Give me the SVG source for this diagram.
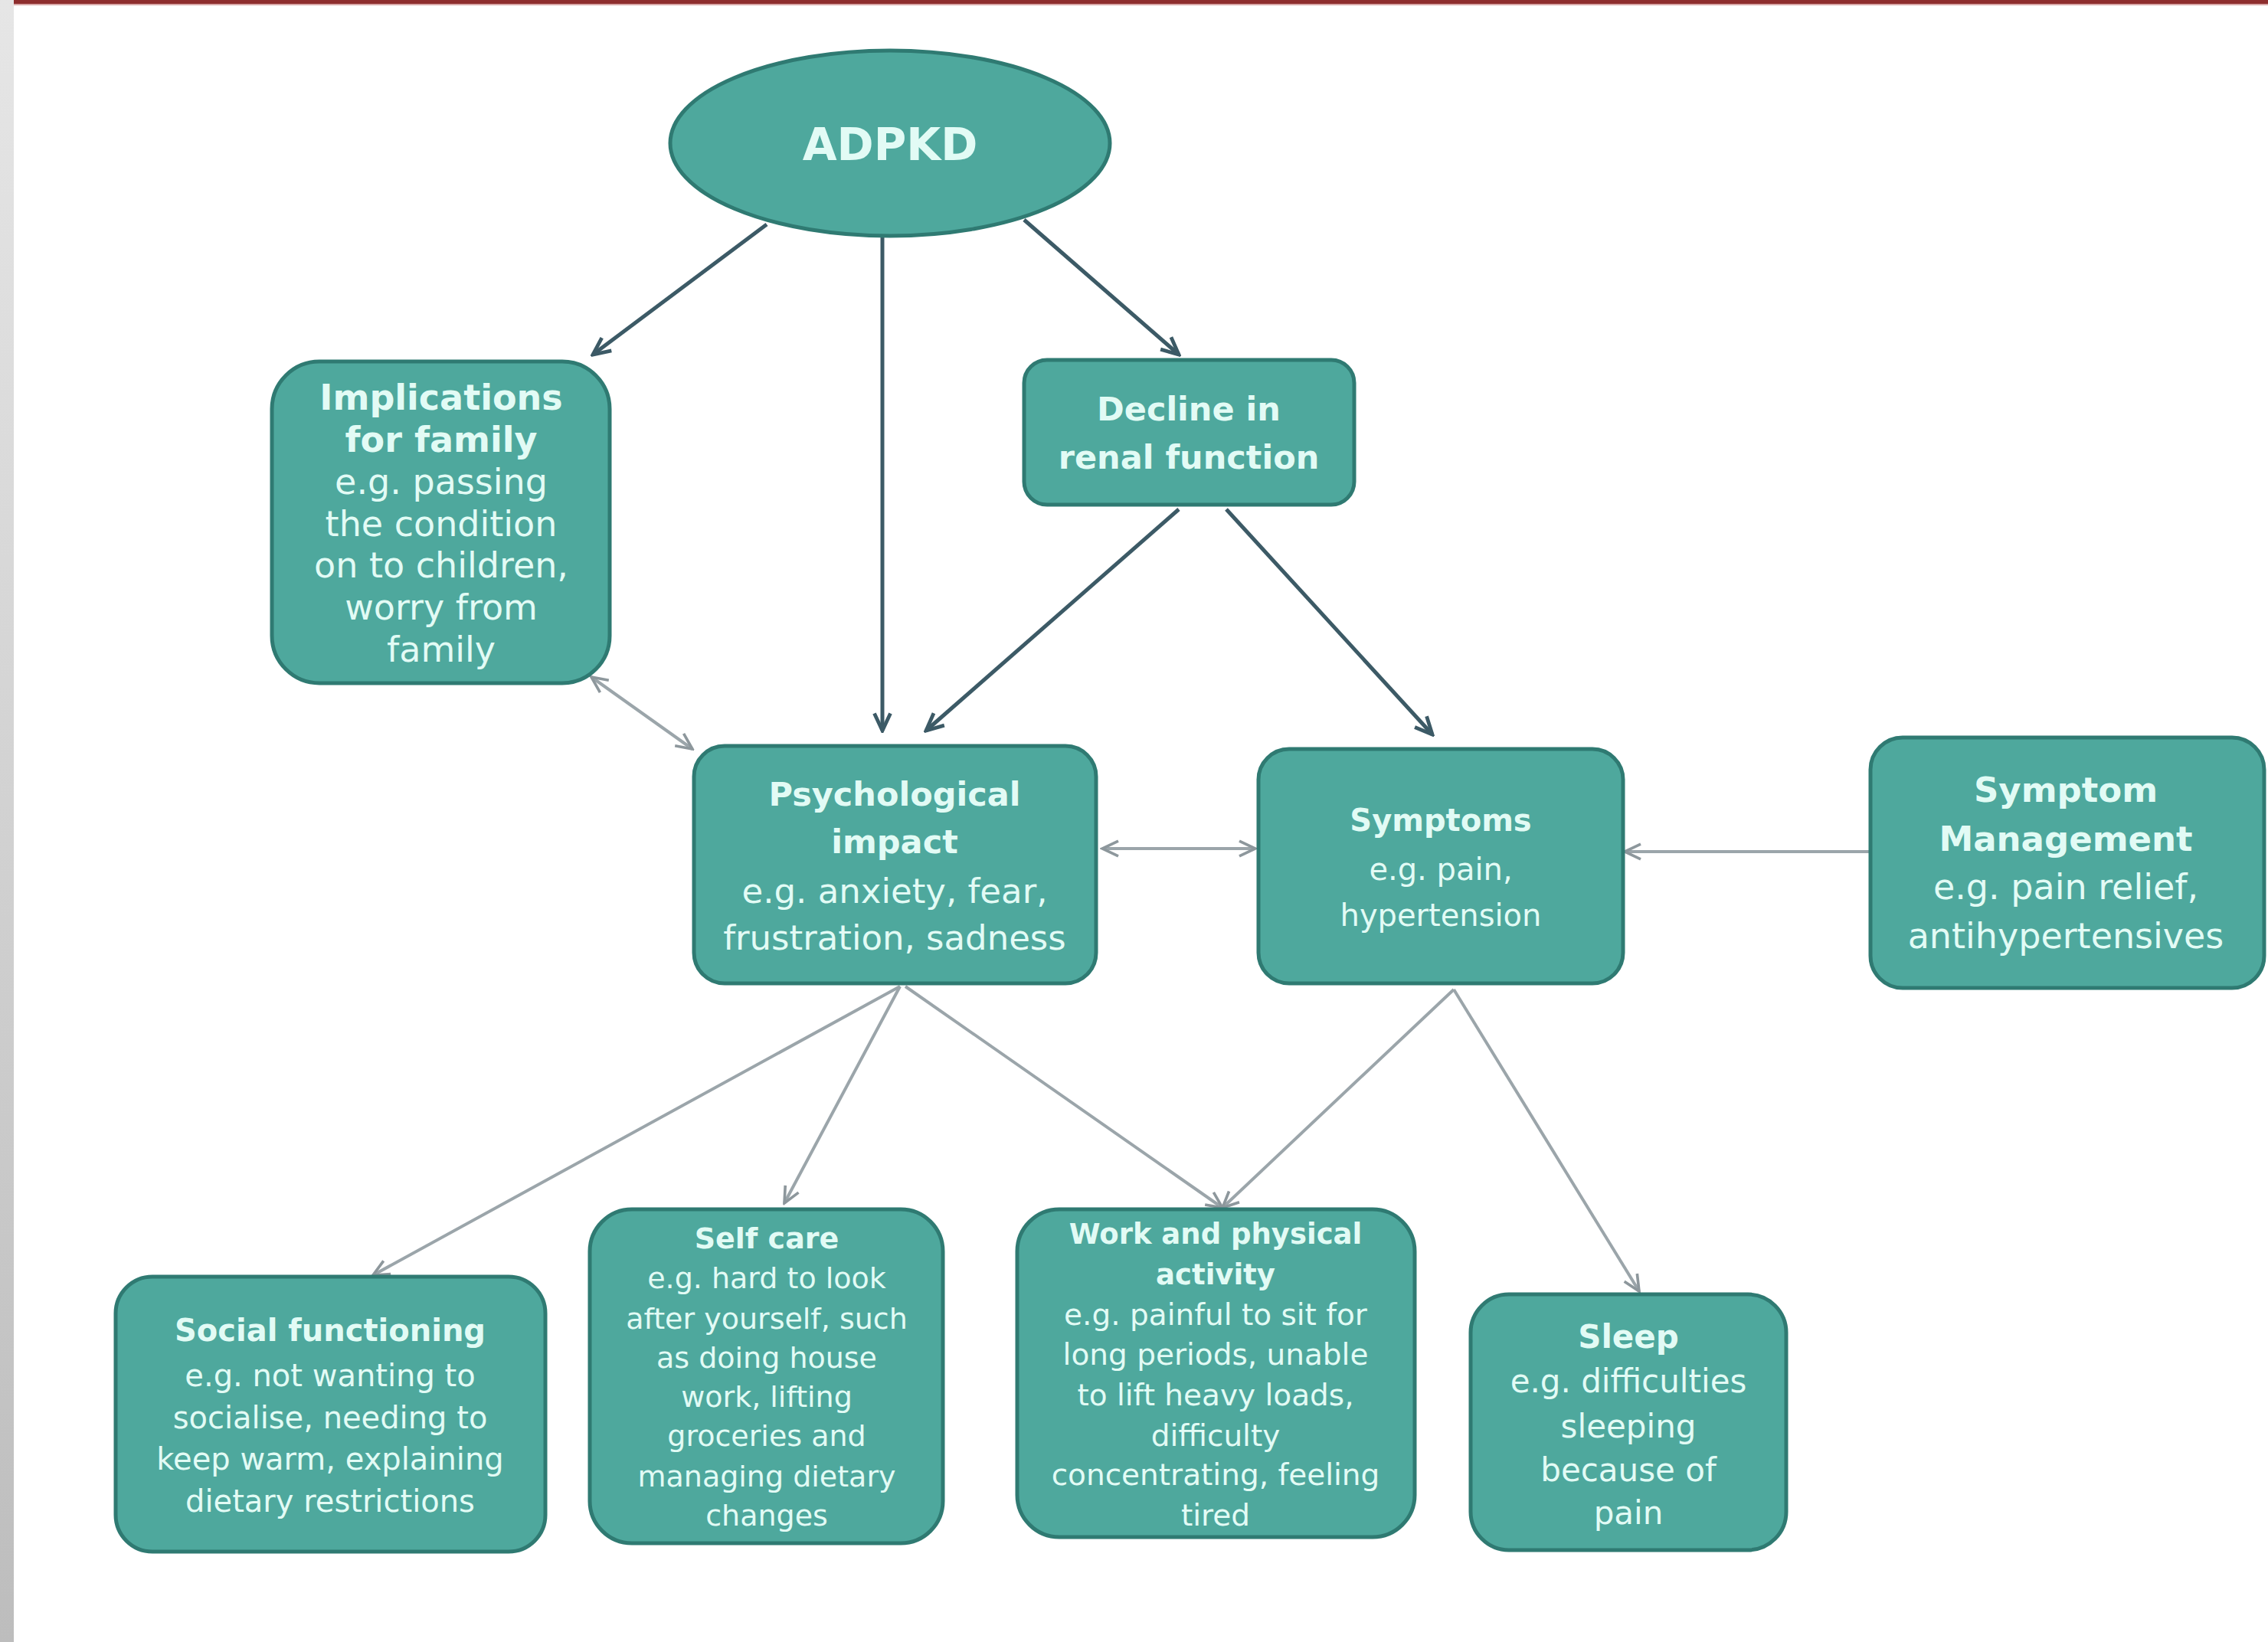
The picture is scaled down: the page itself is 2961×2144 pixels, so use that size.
<svg xmlns="http://www.w3.org/2000/svg" width="2961" height="2144" viewBox="0 0 2961 2144">
<defs>
<linearGradient id="side" x1="0" y1="0" x2="0" y2="1"><stop offset="0" stop-color="#e6e6e6"/><stop offset="1" stop-color="#bdbdbd"/></linearGradient>
<marker id="ad" viewBox="0 0 20 20" refX="18" refY="10" markerWidth="30" markerHeight="30" markerUnits="userSpaceOnUse" orient="auto-start-reverse"><path d="M3,3 L18,10 L3,17" fill="none" stroke="#3c5a66" stroke-width="3.2"/></marker>
<marker id="ag" viewBox="0 0 20 20" refX="18" refY="10" markerWidth="28" markerHeight="28" markerUnits="userSpaceOnUse" orient="auto-start-reverse"><path d="M3,3 L18,10 L3,17" fill="none" stroke="#8d979c" stroke-width="2.6"/></marker>
</defs>
<style>
.box{fill:#4ea89d;stroke:#2f7a72;stroke-width:5}
text{font-family:"DejaVu Sans","Liberation Sans",sans-serif;fill:#e2fbf5;text-anchor:middle}
.b{font-weight:bold}
.dk{stroke:#3c5a66;stroke-width:5;fill:none;marker-end:url(#ad)}
.gr{stroke:#9ba5aa;stroke-width:4;fill:none;marker-end:url(#ag)}
.both{marker-start:url(#ag)}
</style>
<rect x="0" y="0" width="2961" height="2144" fill="#ffffff"/>
<rect x="0" y="0" width="18" height="2144" fill="url(#side)"/>
<rect x="18" y="0" width="2943" height="5" fill="#8e2e2e"/>
<rect x="18" y="5" width="2943" height="2" fill="#d9a9a9"/>

<g id="connectors">
<path class="dk" d="M1001,293 L774,463"/>
<path class="dk" d="M1152,308 L1152,954"/>
<path class="dk" d="M1337,287 L1539,463"/>
<path class="dk" d="M1539,665 L1209,954"/>
<path class="dk" d="M1601,665 L1870,959"/>
<path class="gr both" d="M772,884 L904,978"/>
<path class="gr both" d="M1439,1108 L1639,1108"/>
<path class="gr" d="M2442,1112 L2121,1112"/>
<path class="gr" d="M1175,1288 L487,1665"/>
<path class="gr" d="M1175,1288 L1024,1571"/>
<path class="gr" d="M1182,1288 L1596,1577"/>
<path class="gr" d="M1898,1292 L1596,1577"/>
<path class="gr" d="M1898,1292 L2140,1686"/>
</g>

<g id="adpkd">
<ellipse class="box" cx="1162" cy="187" rx="287" ry="121"/>
<text class="b" x="1162" y="209" font-size="58">ADPKD</text>
</g>

<g id="implications">
<rect class="box" x="355" y="472" width="441" height="420" rx="62"/>
<text x="576" font-size="46"><tspan class="b" x="576" y="535">Implications</tspan><tspan class="b" x="576" y="590">for family</tspan><tspan x="576" y="645">e.g. passing</tspan><tspan x="576" y="700">the condition</tspan><tspan x="576" y="754">on to children,</tspan><tspan x="576" y="809">worry from</tspan><tspan x="576" y="864">family</tspan></text>
</g>

<g id="decline">
<rect class="box" x="1337" y="470" width="431" height="189" rx="30"/>
<text x="1552" font-size="43" class="b"><tspan x="1552" y="549">Decline in</tspan><tspan x="1552" y="612">renal function</tspan></text>
</g>

<g id="psychological">
<rect class="box" x="906" y="974" width="525" height="310" rx="40"/>
<text x="1168"><tspan class="b" font-size="43" x="1168" y="1052">Psychological</tspan><tspan class="b" font-size="43" x="1168" y="1114">impact</tspan><tspan font-size="45" x="1168" y="1179">e.g. anxiety, fear,</tspan><tspan font-size="45" x="1168" y="1240">frustration, sadness</tspan></text>
</g>

<g id="symptoms">
<rect class="box" x="1643" y="978" width="476" height="306" rx="40"/>
<text x="1881" font-size="40"><tspan class="b" x="1881" y="1085">Symptoms</tspan><tspan x="1881" y="1149">e.g. pain,</tspan><tspan x="1881" y="1209">hypertension</tspan></text>
</g>

<g id="symptom-management">
<rect class="box" x="2442" y="963" width="514" height="327" rx="42"/>
<text x="2697"><tspan class="b" font-size="45" x="2697" y="1047">Symptom</tspan><tspan class="b" font-size="45" x="2697" y="1111">Management</tspan><tspan font-size="46" x="2697" y="1174">e.g. pain relief,</tspan><tspan font-size="46" x="2697" y="1238">antihypertensives</tspan></text>
</g>

<g id="social">
<rect class="box" x="151" y="1667" width="561" height="359" rx="48"/>
<text x="431" font-size="40"><tspan class="b" x="431" y="1751">Social functioning</tspan><tspan x="431" y="1810">e.g. not wanting to</tspan><tspan x="431" y="1865">socialise, needing to</tspan><tspan x="431" y="1919">keep warm, explaining</tspan><tspan x="431" y="1974">dietary restrictions</tspan></text>
</g>

<g id="selfcare">
<rect class="box" x="770" y="1579" width="461" height="436" rx="55"/>
<text x="1001" font-size="38"><tspan class="b" x="1001" y="1630">Self care</tspan><tspan x="1001" y="1682">e.g. hard to look</tspan><tspan x="1001" y="1735">after yourself, such</tspan><tspan x="1001" y="1786">as doing house</tspan><tspan x="1001" y="1837">work, lifting</tspan><tspan x="1001" y="1888">groceries and</tspan><tspan x="1001" y="1941">managing dietary</tspan><tspan x="1001" y="1992">changes</tspan></text>
</g>

<g id="work">
<rect class="box" x="1328" y="1579" width="519" height="428" rx="55"/>
<text x="1587" font-size="39"><tspan class="b" font-size="37" x="1587" y="1624">Work and physical</tspan><tspan class="b" font-size="37" x="1587" y="1677">activity</tspan><tspan x="1587" y="1730">e.g. painful to sit for</tspan><tspan x="1587" y="1782">long periods, unable</tspan><tspan x="1587" y="1835">to lift heavy loads,</tspan><tspan x="1587" y="1888">difficulty</tspan><tspan x="1587" y="1939">concentrating, feeling</tspan><tspan x="1587" y="1992">tired</tspan></text>
</g>

<g id="sleep">
<rect class="box" x="1920" y="1690" width="412" height="334" rx="50"/>
<text x="2126" font-size="42"><tspan class="b" x="2126" y="1760">Sleep</tspan><tspan x="2126" y="1818">e.g. difficulties</tspan><tspan x="2126" y="1877">sleeping</tspan><tspan x="2126" y="1934">because of</tspan><tspan x="2126" y="1990">pain</tspan></text>
</g>
</svg>
